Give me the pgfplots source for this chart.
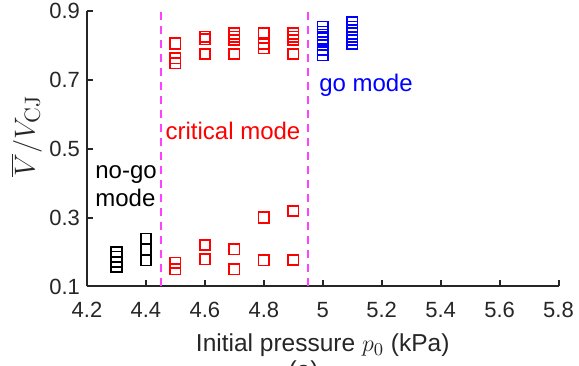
\documentclass[border=0pt]{standalone}
\usepackage[no-math]{fontspec}
\setmainfont{Liberation Sans}
\usepackage{pgfplots}
\pgfplotsset{compat=1.18}
\usetikzlibrary{calc}
\definecolor{axgray}{RGB}{38,38,38}
\definecolor{mag}{RGB}{255,64,255}
\begin{document}
\begin{tikzpicture}
\begin{axis}[name=ax, scale only axis, width=235.75pt, height=137.9pt,
  xmin=4.2, xmax=5.8, ymin=0.1, ymax=0.9, clip=false,
  axis lines*=left, axis line style={axgray, line width=1pt},
  xtick={4.2,4.4,4.6,4.8,5.0,5.2,5.4,5.6,5.8},
  ytick={0.1,0.3,0.5,0.7,0.9},
  tick align=inside, major tick length=3pt,
  tick style={axgray, line width=1pt},
  tick label style={font=\fontsize{11}{13}\selectfont, text=axgray},
  /pgf/number format/assume math mode=true,
  xticklabel style={yshift=-4.5pt},
  xlabel={Initial pressure $p_0$ (kPa)},
  xlabel style={font=\fontsize{12.25}{14}\selectfont, text=axgray, at={(axis description cs:0.5,0)}, anchor=base, yshift=-32.6pt},
  ylabel={$\overline{V}/V_{\mathrm{CJ}}$},
  ylabel style={font=\fontsize{15.5}{18}\selectfont, text=axgray, at={(axis description cs:-0.1283,0.546)}, anchor=center},
  every axis plot/.append style={only marks, mark=square, mark size=2.6pt, line width=0.85pt},
]
% magenta boundaries
\addplot[mag, line width=1.1pt, dash pattern=on 4pt off 3pt, no markers, only marks=false, sharp plot] coordinates {(4.45,0.1) (4.45,0.9)};
\addplot[mag, line width=1.1pt, dash pattern=on 4pt off 3pt, no markers, only marks=false, sharp plot] coordinates {(4.95,0.1) (4.95,0.9)};
% no-go
\addplot[black, mark options={solid}] coordinates {
 (4.3,0.199) (4.3,0.186) (4.3,0.172) (4.3,0.157)
 (4.4,0.239) (4.4,0.208) (4.4,0.176)};
% critical
\addplot[red, mark options={solid}] coordinates {
 (4.5,0.805) (4.5,0.762) (4.5,0.747) (4.5,0.169) (4.5,0.150)
 (4.6,0.825) (4.6,0.817) (4.6,0.774) (4.6,0.220) (4.6,0.179)
 (4.7,0.834) (4.7,0.825) (4.7,0.815) (4.7,0.774) (4.7,0.208) (4.7,0.150)
 (4.8,0.834) (4.8,0.805) (4.8,0.791) (4.8,0.300) (4.8,0.176)
 (4.9,0.834) (4.9,0.825) (4.9,0.815) (4.9,0.774) (4.9,0.319) (4.9,0.177)};
% go
\addplot[blue, mark options={solid}] coordinates {
 (5.0,0.854) (5.0,0.839) (5.0,0.830) (5.0,0.820) (5.0,0.810) (5.0,0.800) (5.0,0.786) (5.0,0.771)
 (5.1,0.866) (5.1,0.854) (5.1,0.844) (5.1,0.834) (5.1,0.825) (5.1,0.815) (5.1,0.803)};
\node[anchor=base west, inner sep=0, text=red, font=\fontsize{12}{14}\selectfont] at (axis cs:4.4655,0.525) {critical mode};
\node[anchor=base west, inner sep=0, text=blue, font=\fontsize{12}{14}\selectfont] at (axis cs:4.987,0.665) {go mode};
\node[anchor=base west, inner sep=0, text=black, font=\fontsize{12}{14}\selectfont] at (axis cs:4.227,0.412) {no-go};
\node[anchor=base west, inner sep=0, text=black, font=\fontsize{12}{14}\selectfont] at (axis cs:4.227,0.331) {mode};
\node[anchor=north, inner sep=0, text=axgray, font=\fontsize{12.25}{14}\selectfont] at (axis cs:4.935,0.1) [yshift=-36.75pt] {(a)};
\end{axis}
\pgfresetboundingbox
\path[use as bounding box] ($(ax.south west)+(-43.5pt,-39.75pt)$) rectangle ($(ax.north east)+(10.25pt,5.35pt)$);
\end{tikzpicture}
\end{document}
